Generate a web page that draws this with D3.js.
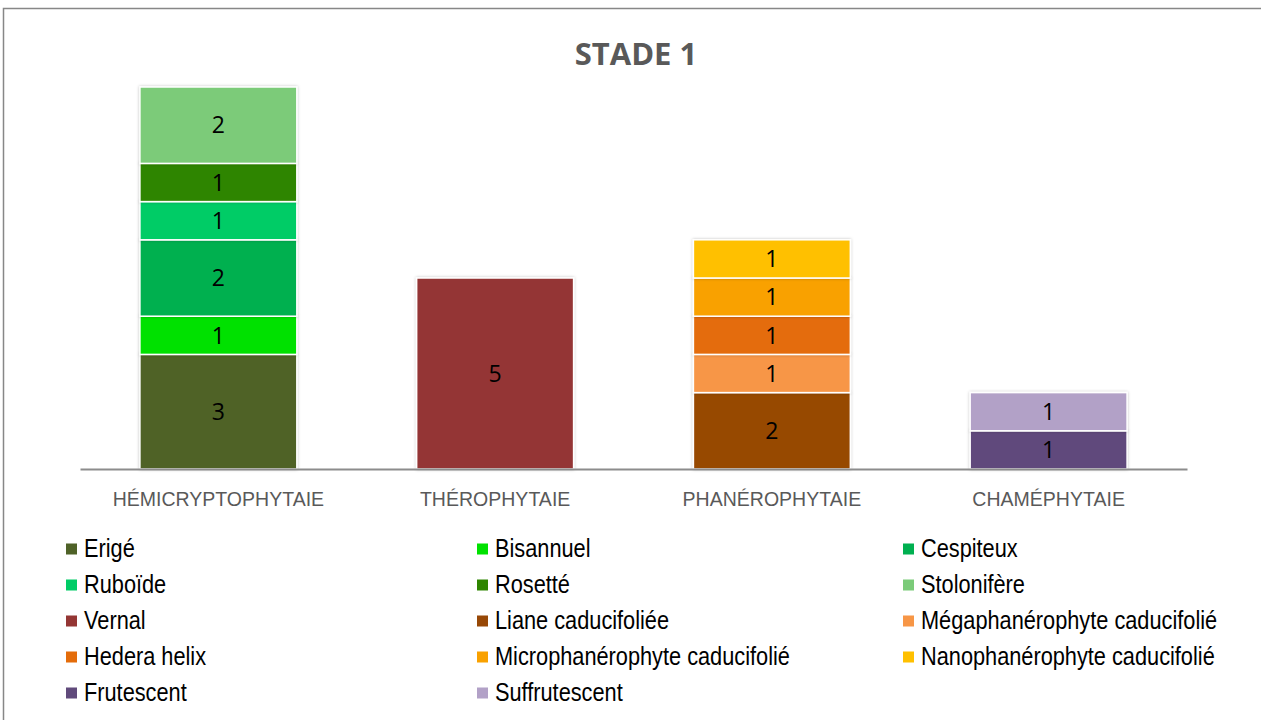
<!DOCTYPE html>
<html lang="fr">
<head>
    <meta charset="UTF-8">
    <title>Stade 1</title>
    <style>
        body { margin: 0; background: #fff; }
        svg { display: block; }
        .narrow { font-family: "Liberation Sans", Arial, sans-serif; }
    </style>
    <script src="https://d3js.org/d3.v7.min.js"></script>
</head>
<body>
<svg width="1261" height="720"></svg>
<script>
    // catégories (axe X)
    const categories = ["HÉMICRYPTOPHYTAIE", "THÉROPHYTAIE", "PHANÉROPHYTAIE", "CHAMÉPHYTAIE"];

    // séries, dans l'ordre d'empilement
    const seriesNames = [
        "Erigé", "Bisannuel", "Cespiteux", "Ruboïde", "Rosetté", "Stolonifère",
        "Vernal", "Liane caducifoliée", "Mégaphanérophyte caducifolié",
        "Hedera helix", "Microphanérophyte caducifolié", "Nanophanérophyte caducifolié",
        "Frutescent", "Suffrutescent"
    ];
    const seriesColors = [
        "#4F6228", "#00E100", "#00B050", "#00CC66", "#2E8500", "#7BCB79",
        "#943634", "#974806", "#F79646", "#E46C0A", "#F9A100", "#FFC000",
        "#604A7B", "#B2A1C7"
    ];
    // valeurs : une ligne par série, une colonne par catégorie
    const seriesValues = [
        [3, 0, 0, 0],
        [1, 0, 0, 0],
        [2, 0, 0, 0],
        [1, 0, 0, 0],
        [1, 0, 0, 0],
        [2, 0, 0, 0],
        [0, 5, 0, 0],
        [0, 0, 2, 0],
        [0, 0, 1, 0],
        [0, 0, 1, 0],
        [0, 0, 1, 0],
        [0, 0, 1, 0],
        [0, 0, 0, 1],
        [0, 0, 0, 1]
    ];

    const svg = d3.select("svg");

    // cadre
    svg.append("rect")
        .attr("x", 3.5).attr("y", 8.5)
        .attr("width", 1300).attr("height", 800)
        .attr("fill", "#fff")
        .attr("stroke", "#878787")
        .attr("stroke-width", 1.5);

    // titre
    svg.append("text")
        .attr("x", 636).attr("y", 65)
        .attr("text-anchor", "middle")
        .style("font-family", "'Open Sans', sans-serif")
        .style("font-weight", "bold")
        .style("font-size", "31px")
        .style("fill", "#595959")
        .text("STADE 1");

    // tableau pour d3.stack
    const table = categories.map((c, i) => {
        const row = { cat: c };
        seriesNames.forEach((s, j) => row[s] = seriesValues[j][i]);
        return row;
    });
    const stacked = d3.stack().keys(seriesNames)(table);

    const x = d3.scaleBand().domain(categories).range([80, 1187]).paddingInner(0.433).paddingOuter(0.2165);
    const y = d3.scaleLinear().domain([0, 10]).range([469, 87]);
    const color = d3.scaleOrdinal().domain(seriesNames).range(seriesColors);

    // ombre légère des barres
    const defs = svg.append("defs");
    const f = defs.append("filter").attr("id", "shadow").attr("x", "-10%").attr("y", "-10%").attr("width", "120%").attr("height", "120%");
    f.append("feDropShadow").attr("dx", 0).attr("dy", 0).attr("stdDeviation", 1.5).attr("flood-color", "#000").attr("flood-opacity", 0.25);

    const layers = svg.append("g").selectAll("g")
        .data(stacked)
        .enter().append("g")
        .attr("fill", d => color(d.key));

    layers.selectAll("rect")
        .data(d => d.filter(p => p[1] - p[0] > 0))
        .enter().append("rect")
        .attr("x", d => x(d.data.cat))
        .attr("y", d => y(d[1]))
        .attr("width", x.bandwidth())
        .attr("height", d => y(d[0]) - y(d[1]))
        .attr("stroke", "#fff")
        .attr("stroke-width", 1.5)
        .attr("filter", "url(#shadow)");

    // étiquettes de valeur
    layers.selectAll("text")
        .data(d => d.filter(p => p[1] - p[0] > 0))
        .enter().append("text")
        .attr("x", d => x(d.data.cat) + x.bandwidth() / 2)
        .attr("y", d => (y(d[0]) + y(d[1])) / 2)
        .attr("dy", "0.36em")
        .attr("text-anchor", "middle")
        .style("font-family", "'Open Sans', sans-serif")
        .style("font-size", "23px")
        .style("fill", "#000")
        .text(d => d[1] - d[0]);

    // axe X
    const xAxis = svg.append("g")
        .attr("transform", "translate(0,469)")
        .call(d3.axisBottom(x).tickSize(0));
    xAxis.select(".domain").attr("stroke", "#8c8c8c").attr("stroke-width", 2);
    xAxis.selectAll("text")
        .attr("class", "narrow")
        .attr("y", 37)
        .attr("dy", 0)
        .attr("transform", "scale(0.93,1)")
        .style("font-size", "21px")
        .style("fill", "#595959");

    // légende
    const legend = svg.append("g").attr("class", "narrow");
    const colX = [66, 477, 903];
    const item = legend.selectAll("g")
        .data(seriesNames)
        .enter().append("g")
        .attr("transform", (d, i) => `translate(${colX[i % 3]},${549 + Math.floor(i / 3) * 36})`);
    item.append("rect")
        .attr("x", 0).attr("y", -5.5)
        .attr("width", 11).attr("height", 11)
        .attr("fill", d => color(d));
    item.append("text")
        .attr("transform", "translate(18,8) scale(0.87,1)")
        .style("font-size", "25px")
        .style("fill", "#000")
        .text(d => d);
</script>
</body>
</html>
